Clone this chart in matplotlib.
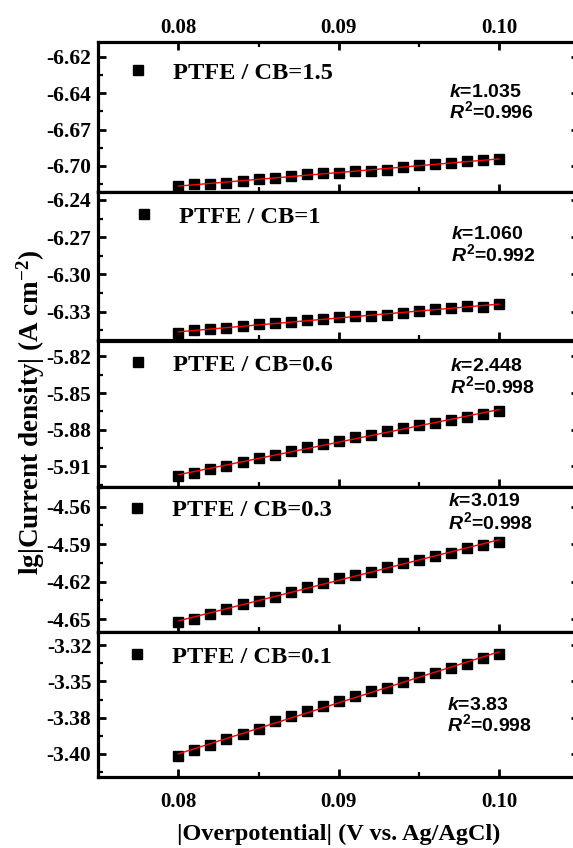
import numpy as np
import matplotlib
matplotlib.use("Agg")
import matplotlib.pyplot as plt
from matplotlib.ticker import FixedLocator, FixedFormatter, AutoMinorLocator

plt.rcParams['mathtext.fontset'] = 'custom'
plt.rcParams['mathtext.rm'] = 'Liberation Sans:bold'
plt.rcParams['mathtext.it'] = 'Liberation Sans:italic:bold'
plt.rcParams['mathtext.bf'] = 'Liberation Sans:bold'

# ---------------- data ----------------
overpotential = [0.080, 0.081, 0.082, 0.083, 0.084, 0.085, 0.086, 0.087, 0.088, 0.089, 0.090,
                 0.091, 0.092, 0.093, 0.094, 0.095, 0.096, 0.097, 0.098, 0.099, 0.100]

labels = ["PTFE / CB=1.5", "PTFE / CB=1", "PTFE / CB=0.6", "PTFE / CB=0.3", "PTFE / CB=0.1"]

lg_cb15 = [-6.7151, -6.7138, -6.7136, -6.7126, -6.7116, -6.7098, -6.7088, -6.7075, -6.7063, -6.7055,
           -6.7055, -6.7035, -6.7038, -6.7030, -6.7008, -6.6995, -6.6987, -6.6977, -6.6965, -6.6957, -6.6947]
lg_cb1 = [-6.3469, -6.3448, -6.3442, -6.3434, -6.3416, -6.3402, -6.3394, -6.3381, -6.3367, -6.3359,
          -6.3346, -6.3332, -6.3335, -6.3327, -6.3313, -6.3292, -6.3281, -6.3268, -6.3252, -6.3260, -6.3241]
lg_cb06 = [-5.9182, -5.9155, -5.9122, -5.9095, -5.9067, -5.9032, -5.9005, -5.8972, -5.8939, -5.8917,
           -5.8895, -5.8863, -5.8841, -5.8808, -5.8786, -5.8765, -5.8745, -5.8724, -5.8699, -5.8672, -5.8650]
lg_cb03 = [-4.6521, -4.6500, -4.6457, -4.6420, -4.6382, -4.6353, -4.6321, -4.6281, -4.6246, -4.6209,
           -4.6174, -4.6147, -4.6121, -4.6086, -4.6049, -4.6027, -4.5995, -4.5969, -4.5934, -4.5907, -4.5880]
lg_cb01 = [-3.4045, -3.3994, -3.3956, -3.3916, -3.3878, -3.3840, -3.3779, -3.3738, -3.3700, -3.3662,
           -3.3626, -3.3588, -3.3548, -3.3522, -3.3479, -3.3441, -3.3408, -3.3370, -3.3340, -3.3294, -3.3263]

k_values = ["1.035", "1.060", "2.448", "3.019", "3.83"]
r2_values = ["0.996", "0.992", "0.998", "0.998", "0.998"]

ytick_values = [
    [-6.6175, -6.645, -6.6725, -6.70],
    [-6.24, -6.27, -6.30, -6.33],
    [-5.82, -5.85, -5.88, -5.91],
    [-4.56, -4.59, -4.62, -4.65],
    [-3.32, -3.3475, -3.375, -3.4025],
]
ytick_labels = [
    ["-6.62", "-6.64", "-6.67", "-6.70"],
    ["-6.24", "-6.27", "-6.30", "-6.33"],
    ["-5.82", "-5.85", "-5.88", "-5.91"],
    ["-4.56", "-4.59", "-4.62", "-4.65"],
    ["-3.32", "-3.35", "-3.38", "-3.40"],
]
ylims = [(-6.7193, -6.6064), (-6.3532, -6.2332), (-5.9269, -5.8070),
         (-4.6604, -4.5442), (-3.4203, -3.3098)]
xtick_values = [0.08, 0.09, 0.10]
xtick_labels = ["0.08", "0.09", "0.10"]

series = [lg_cb15, lg_cb1, lg_cb06, lg_cb03, lg_cb01]

# ---------------- layout ----------------
W, H = 573, 848
fig = plt.figure(figsize=(W / 100, H / 100), dpi=100)
left_px, right_px = 98.3, 579.0
bounds = [42, 191.5, 340.5, 487, 632, 777]
leg_pos = [(0.058, 0.793), (0.0705, 0.829), (0.058, 0.833), (0.056, 0.841), (0.056, 0.828)]
ann_pos = [(449, 90.7, 111.5), (451, 232.7, 254.0), (450, 364.7, 386.3),
           (448, 500.0, 522.3), (447, 703.7, 724.0)]

serif_bold = dict(family='Liberation Serif', weight='bold')
x = np.array(overpotential)

for i, ys in enumerate(series):
    top, bot = bounds[i], bounds[i + 1]
    ax = fig.add_axes([left_px / W, 1 - bot / H, (right_px - left_px) / W, (bot - top) / H])
    y = np.array(ys)
    ax.plot(x, y, 's', color='black', markersize=7.2, label=labels[i], zorder=3)
    coef = np.polyfit(x, y, 1)
    xf = np.array([x[0], x[-1]])
    ax.plot(xf, np.polyval(coef, xf), '-', color='red', lw=1.0, zorder=4)

    ax.set_xlim(0.075, 0.105)
    ax.set_ylim(*ylims[i])
    ax.yaxis.set_major_locator(FixedLocator(ytick_values[i]))
    ax.yaxis.set_major_formatter(FixedFormatter(ytick_labels[i]))
    ax.yaxis.set_minor_locator(AutoMinorLocator(2))
    ax.xaxis.set_major_locator(FixedLocator(xtick_values))
    ax.xaxis.set_major_formatter(FixedFormatter(xtick_labels))
    ax.xaxis.set_minor_locator(FixedLocator([0.085, 0.095]))

    for sp in ax.spines.values():
        sp.set_linewidth(2.3)
    ax.tick_params(which='both', direction='in', width=2.0, left=True, right=True,
                   bottom=True, top=(i == 0), labeltop=(i == 0), labelbottom=(i == 4))
    ax.tick_params(which='major', length=6)
    ax.tick_params(which='minor', length=3.5, width=1.6)
    ax.tick_params(axis='y', which='major', pad=5, labelsize=15.5)
    ax.tick_params(axis='x', which='major', labelsize=15)
    if i == 0:
        ax.tick_params(axis='x', which='major', pad=3)
    if i == 4:
        ax.tick_params(axis='x', which='major', pad=11)
    for lab in ax.get_yticklabels() + ax.get_xticklabels():
        lab.set_fontfamily('Liberation Serif')
        lab.set_fontweight('bold')

    leg = ax.legend(loc='center left', bbox_to_anchor=leg_pos[i], frameon=False,
                    borderpad=0, borderaxespad=0, handlelength=1.0, handletextpad=0.92,
                    prop=dict(family='Liberation Serif', weight='bold', size=17.6))

    xa, yk, yr = ann_pos[i]
    fig.text(xa / W, 1 - (yk + 6) / H, r"$k$=" + k_values[i], fontsize=14,
             family='Liberation Sans', weight='bold', va='baseline', ha='left')
    fig.text(xa / W, 1 - (yr + 7) / H, r"$R^{2}$=" + r2_values[i], fontsize=14,
             family='Liberation Sans', weight='bold', va='baseline', ha='left')

fig.text(339 / W, 1 - 834 / H, "|Overpotential| (V vs. Ag/AgCl)", ha='center', va='center',
         fontsize=17.5, **serif_bold)
fig.text(31 / W, 1 - 412 / H, r"lg|Current density| (A cm$\mathregular{^{-2}}$)", ha='center',
         va='center', rotation=90, fontsize=19.5, **serif_bold)

fig.savefig("out.png", dpi=100)
